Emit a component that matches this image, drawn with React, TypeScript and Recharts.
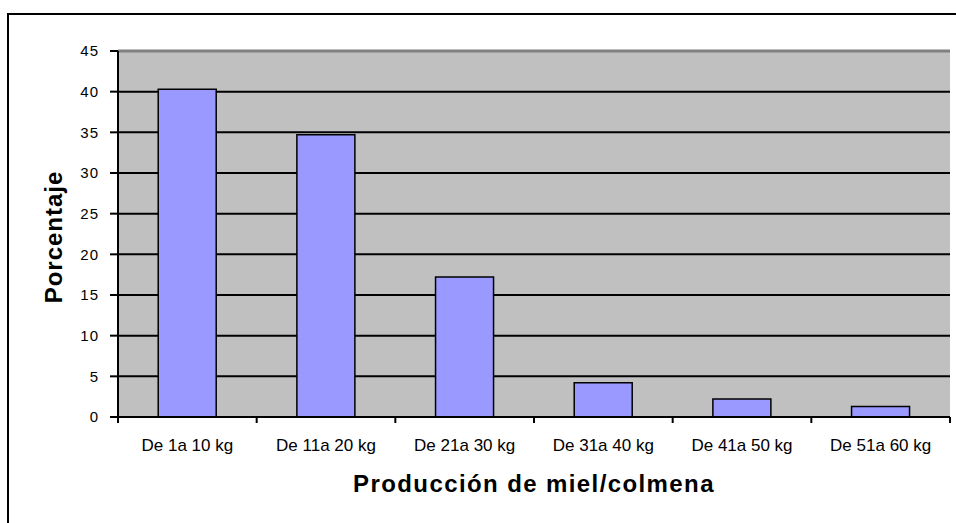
import React from 'react';
import { BarChart, Bar, XAxis, YAxis, CartesianGrid, ReferenceLine } from 'recharts';

const CATEGORIES = ['De 1a 10 kg', 'De 11a 20 kg', 'De 21a 30 kg', 'De 31a 40 kg', 'De 41a 50 kg', 'De 51a 60 kg'];
const PERCENTAGES = [40.3, 34.7, 17.2, 4.2, 2.2, 1.3];
const Y_TICKS = [0, 5, 10, 15, 20, 25, 30, 35, 40, 45];

const data = CATEGORIES.map((name, i) => ({ name, value: PERCENTAGES[i] }));

const FONT = '"Liberation Sans", Arial, sans-serif';

const CategoryTick = (props: any) => {
  const { x, y, payload, index, visibleTicksCount, width } = props;
  const band = payload && payload.offset ? payload.offset * 2 : width / visibleTicksCount;
  const left = x - band / 2;
  const right = x + band / 2;
  return (
    <g>
      <line x1={left} y1={y} x2={left} y2={y + 6} stroke="#000" strokeWidth={2} />
      {index === visibleTicksCount - 1 && (
        <line x1={right} y1={y} x2={right} y2={y + 6} stroke="#000" strokeWidth={2} />
      )}
      <text x={x} y={y + 34} textAnchor="middle" fill="#000" fontSize={17} fontFamily={FONT}>
        {payload.value}
      </text>
    </g>
  );
};

const YTitle = (props: any) => {
  const vb = props.viewBox;
  const cx = 62;
  const cy = vb.y + vb.height / 2 + 3;
  return (
    <text
      x={cx}
      y={cy}
      transform={`rotate(-90, ${cx}, ${cy})`}
      textAnchor="middle"
      fontSize={24}
      fontWeight="bold"
      letterSpacing={1}
      fontFamily={FONT}
      fill="#000"
    >
      Porcentaje
    </text>
  );
};

const XTitle = (props: any) => {
  const vb = props.viewBox;
  return (
    <text
      x={vb.x + vb.width / 2}
      y={492}
      textAnchor="middle"
      fontSize={24}
      fontWeight="bold"
      letterSpacing={1.4}
      fontFamily={FONT}
      fill="#000"
    >
      Producción de miel/colmena
    </text>
  );
};

export default function App() {
  return (
    <div style={{ position: 'absolute', left: 0, top: 0, width: 956, height: 523, overflow: 'hidden', background: '#fff' }}>
      <div
        style={{
          position: 'absolute',
          left: 7,
          top: 13,
          width: 1000,
          height: 600,
          borderLeft: '2px solid #000',
          borderTop: '2px solid #000',
        }}
      />
      <div style={{ position: 'absolute', left: 0, top: 0 }}>
        <BarChart
          width={956}
          height={523}
          data={data}
          margin={{ top: 51, right: 6, bottom: 46, left: 0 }}
          barCategoryGap="29%"
        >
          <CartesianGrid fill="#C0C0C0" stroke="#000" strokeWidth={2} vertical={false} fillOpacity={1} />
          <XAxis
            dataKey="name"
            height={60}
            axisLine={{ stroke: '#000', strokeWidth: 2 }}
            tickLine={false}
            tickSize={0}
            tickMargin={0}
            interval={0}
            tick={<CategoryTick />}
            label={<XTitle />}
          />
          <YAxis
            width={118}
            domain={[0, 45]}
            ticks={Y_TICKS}
            interval={0}
            axisLine={{ stroke: '#000', strokeWidth: 2 }}
            tickLine={{ stroke: '#000', strokeWidth: 2 }}
            tickSize={8}
            tickMargin={11}
            tick={{ fill: '#000', fontSize: 15, fontFamily: FONT, letterSpacing: 1 }}
            label={<YTitle />}
          />
          <YAxis
            yAxisId="r"
            orientation="right"
            width={0}
            domain={[0, 45]}
            tick={false}
            tickLine={false}
            axisLine={{ stroke: '#808080', strokeWidth: 3 }}
          />
          <ReferenceLine y={45} stroke="#808080" strokeWidth={3} />
          <Bar dataKey="value" fill="#9999FF" stroke="#000" strokeWidth={1.5} isAnimationActive={false} />
        </BarChart>
      </div>
    </div>
  );
}
